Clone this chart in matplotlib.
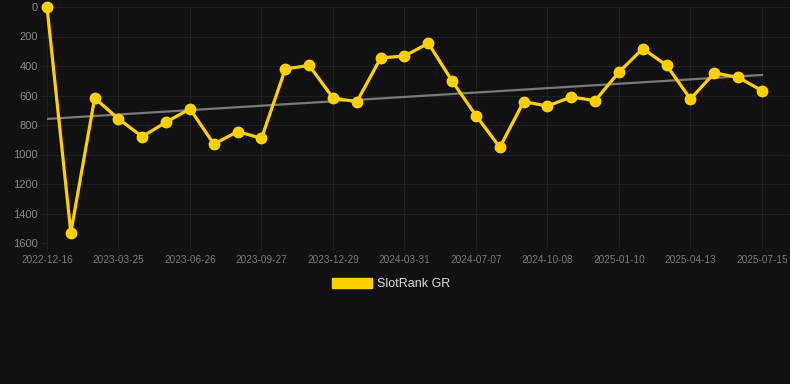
import numpy as np
from matplotlib import pyplot as plt
from matplotlib.patches import Patch

# rank per period, one point roughly every month
rank_values = [1, 1530, 617, 759, 879, 780, 691, 929, 845, 890,
               420, 396, 617, 642, 346, 332, 246, 502, 737, 951,
               642, 671, 610, 635, 441, 282, 396, 624, 447, 477, 567]
tick_labels = ["2022-12-16", "2023-03-25", "2023-06-26", "2023-09-27",
               "2023-12-29", "2024-03-31", "2024-07-07", "2024-10-08",
               "2025-01-10", "2025-04-13", "2025-07-15"]
y_ticks = [0, 200, 400, 600, 800, 1000, 1200, 1400, 1600]

BG = "#111111"
GRID = "#1f1f1f"
GOLD = "#FFD000"

plt.rcParams["font.family"] = ["Liberation Sans", "DejaVu Sans"]

fig = plt.figure(figsize=(7.9, 3.84), dpi=100, facecolor=BG)
W, H = 790, 384
ax = fig.add_axes([47 / W, (H - 243) / H, (W - 47) / W, (243 - 7) / H])
ax.set_facecolor(BG)

x = np.arange(len(rank_values))
values = np.array(rank_values, dtype=float)

# linear trend through the series
slope, intercept = np.polyfit(x, values, 1)
ax.plot([x[0], x[-1]], [intercept + slope * x[0], intercept + slope * x[-1]],
        color="#7a7a7a", linewidth=1.6, zorder=2)

ax.plot(x, values, color=GOLD, linewidth=2.3, marker="o", markersize=7.5,
        solid_joinstyle="miter", clip_on=False, zorder=3)

ax.set_xlim(0, 30 + 28 / 23.83)
ax.set_ylim(1600, 0)
ax.set_yticks(y_ticks)
ax.set_xticks(x[::3])
ax.set_xticklabels(tick_labels)

for spine in ax.spines.values():
    spine.set_visible(False)
ax.grid(True, color=GRID, linewidth=0.8)
ax.set_axisbelow(True)
ax.tick_params(axis="y", length=5, color=GRID, labelcolor="#8a8a8a", labelsize=8, pad=1.5)
ax.tick_params(axis="x", length=5, color=GRID, labelcolor="#7a7a7a", labelsize=7.2, pad=3.5)

handle = Patch(facecolor=GOLD, edgecolor=GOLD)
fig.legend([handle], ["SlotRank GR"], loc="center", bbox_to_anchor=(391 / W, 1 - 284 / H),
           frameon=False, fontsize=9, labelcolor="#dddddd",
           handlelength=3.2, handleheight=0.88, handletextpad=0.45)

fig.savefig("out.png", facecolor=BG)
plt.close(fig)
